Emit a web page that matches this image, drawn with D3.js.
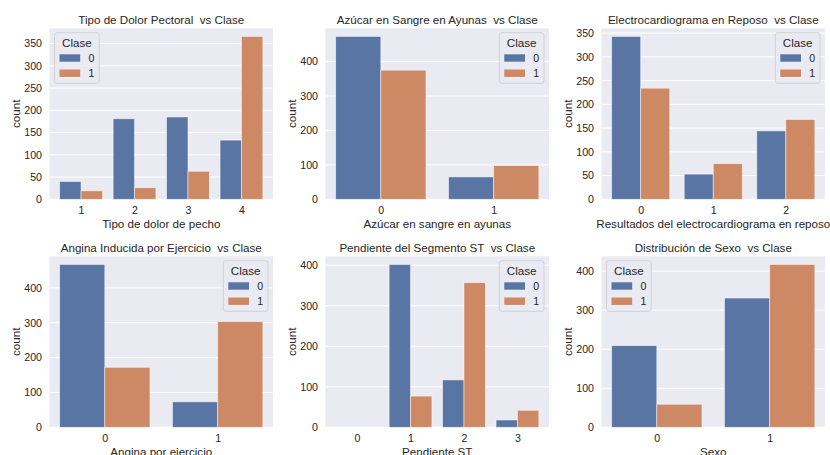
<!DOCTYPE html>
<html>
<head>
<meta charset="utf-8">
<script src="https://cdn.jsdelivr.net/npm/d3@7"></script>
<style>
  html, body { margin: 0; padding: 0; background: #ffffff; }
  svg { display: block; font-family: "Liberation Sans", Arial, sans-serif; }
  svg text { white-space: pre; }
</style>
</head>
<body>
<svg id="chart" width="830" height="455"></svg>
<script>
// Category labels and counts per class (Clase 0 / Clase 1)
const dolorCats = ["1", "2", "3", "4"];
const dolorClase0 = [40, 181, 185, 133];
const dolorClase1 = [19, 26, 63, 366];

const azucarCats = ["0", "1"];
const azucarClase0 = [473, 65];
const azucarClase1 = [375, 98];

const ecgCats = ["0", "1", "2"];
const ecgClase0 = [343, 53, 144];
const ecgClase1 = [234, 75, 168];

const anginaCats = ["0", "1"];
const anginaClase0 = [467, 73];
const anginaClase1 = [172, 303];

const pendienteCats = ["0", "1", "2", "3"];
const pendienteClase0 = [0, 402, 117, 18];
const pendienteClase1 = [0, 77, 357, 42];

const sexoCats = ["0", "1"];
const sexoClase0 = [209, 331];
const sexoClase1 = [59, 417];

const claseLabels = ["0", "1"];

const dolorTicks = [0, 50, 100, 150, 200, 250, 300, 350];
const azucarTicks = [0, 100, 200, 300, 400];
const ecgTicks = [0, 50, 100, 150, 200, 250, 300, 350];
const anginaTicks = [0, 100, 200, 300, 400];
const pendienteTicks = [0, 100, 200, 300, 400];
const sexoTicks = [0, 100, 200, 300, 400];

const panels = [
  { title: "Tipo de Dolor Pectoral  vs Clase", xlabel: "Tipo de dolor de pecho",
    cats: dolorCats, s0: dolorClase0, s1: dolorClase1, ticks: dolorTicks, legend: "left" },
  { title: "Azúcar en Sangre en Ayunas  vs Clase", xlabel: "Azúcar en sangre en ayunas",
    cats: azucarCats, s0: azucarClase0, s1: azucarClase1, ticks: azucarTicks, legend: "right" },
  { title: "Electrocardiograma en Reposo  vs Clase", xlabel: "Resultados del electrocardiograma en reposo",
    cats: ecgCats, s0: ecgClase0, s1: ecgClase1, ticks: ecgTicks, legend: "right" },
  { title: "Angina Inducida por Ejercicio  vs Clase", xlabel: "Angina por ejercicio",
    cats: anginaCats, s0: anginaClase0, s1: anginaClase1, ticks: anginaTicks, legend: "right" },
  { title: "Pendiente del Segmento ST  vs Clase", xlabel: "Pendiente ST",
    cats: pendienteCats, s0: pendienteClase0, s1: pendienteClase1, ticks: pendienteTicks, legend: "right" },
  { title: "Distribución de Sexo  vs Clase", xlabel: "Sexo",
    cats: sexoCats, s0: sexoClase0, s1: sexoClase1, ticks: sexoTicks, legend: "left" }
];

// Layout of the 2 x 3 grid of axes
const colLefts = [49.5, 325.5, 601.5];
const rowTops = [28.3, 256.3];
const axW = 223.5, axH = 171;

const colors = ["#5975a4", "#cc8963"];
const textColor = "#262626";
const bgColor = "#eaeaf2";

const svg = d3.select("#chart");

panels.forEach((p, i) => {
  const left = colLefts[i % 3];
  const top = rowTops[Math.floor(i / 3)];
  const n = p.cats.length;
  const span = n - 1 + 0.8;

  const x = d3.scaleLinear()
    .domain([-0.4 - 0.05 * span, n - 1 + 0.4 + 0.05 * span])
    .range([0, axW]);
  const maxV = d3.max(p.s0.concat(p.s1));
  const y = d3.scaleLinear().domain([0, maxV * 1.05]).range([axH, 0]);

  const g = svg.append("g").attr("transform", `translate(${left},${top})`);

  g.append("rect").attr("width", axW).attr("height", axH).attr("fill", bgColor);

  // horizontal grid
  g.append("g").selectAll("line").data(p.ticks).join("line")
    .attr("x1", 0).attr("x2", axW)
    .attr("y1", d => y(d)).attr("y2", d => y(d))
    .attr("stroke", "#ffffff").attr("stroke-width", 1);

  // bars
  const series = [p.s0, p.s1];
  series.forEach((vals, h) => {
    g.append("g").selectAll("rect").data(vals).join("rect")
      .attr("x", (d, k) => x(k - 0.4 + h * 0.4))
      .attr("width", x(0.4) - x(0))
      .attr("y", d => y(d))
      .attr("height", d => axH - y(d))
      .attr("fill", colors[h])
      .attr("stroke", "#ffffff")
      .attr("stroke-opacity", 0.6)
      .attr("stroke-width", d => d > 0 ? 0.8 : 0);
  });

  // y axis
  const yAxis = g.append("g").call(
    d3.axisLeft(y).tickValues(p.ticks).tickSize(0).tickPadding(7.5).tickFormat(d3.format("d"))
  );
  yAxis.select(".domain").remove();
  yAxis.selectAll("text")
    .attr("fill", textColor).attr("font-size", "10.6px")
    .attr("font-family", "Liberation Sans, Arial, sans-serif");

  // x axis
  const xAxis = g.append("g").attr("transform", `translate(0,${axH})`).call(
    d3.axisBottom(x).tickValues(d3.range(n)).tickSize(0).tickPadding(7).tickFormat(k => p.cats[k])
  );
  xAxis.select(".domain").remove();
  xAxis.selectAll("text")
    .attr("fill", textColor).attr("font-size", "10.6px")
    .attr("font-family", "Liberation Sans, Arial, sans-serif");

  // title
  g.append("text")
    .attr("x", axW / 2).attr("y", -4.4)
    .attr("text-anchor", "middle")
    .attr("xml:space", "preserve")
    .attr("fill", textColor).attr("font-size", "11.6px")
    .text(p.title);

  // x label
  g.append("text")
    .attr("x", axW / 2).attr("y", axH + 28.4)
    .attr("text-anchor", "middle")
    .attr("fill", textColor).attr("font-size", "11.6px")
    .text(p.xlabel);

  // y label
  g.append("text")
    .attr("transform", `translate(-30,${axH / 2}) rotate(-90)`)
    .attr("text-anchor", "middle")
    .attr("fill", textColor).attr("font-size", "11.6px")
    .text("count");

  // legend
  const lw = 44.7, lh = 50.6;
  const lx = p.legend === "left" ? 5 : axW - 5 - lw;
  const ly = 4.4;
  const lg = g.append("g").attr("transform", `translate(${lx},${ly})`);
  lg.append("rect")
    .attr("width", lw).attr("height", lh).attr("rx", 2.5)
    .attr("fill", bgColor).attr("fill-opacity", 0.8)
    .attr("stroke", "#cccccc").attr("stroke-width", 0.8);
  lg.append("text")
    .attr("x", lw / 2).attr("y", 14)
    .attr("text-anchor", "middle")
    .attr("fill", textColor).attr("font-size", "11.6px")
    .text("Clase");
  claseLabels.forEach((lab, h) => {
    lg.append("rect")
      .attr("x", 5).attr("y", 21.6 + h * 15.2)
      .attr("width", 20.7).attr("height", 7.4)
      .attr("fill", colors[h]);
    lg.append("text")
      .attr("x", 34).attr("y", 29.2 + h * 15.2)
      .attr("fill", textColor).attr("font-size", "10.6px")
      .text(lab);
  });
});
</script>
</body>
</html>
